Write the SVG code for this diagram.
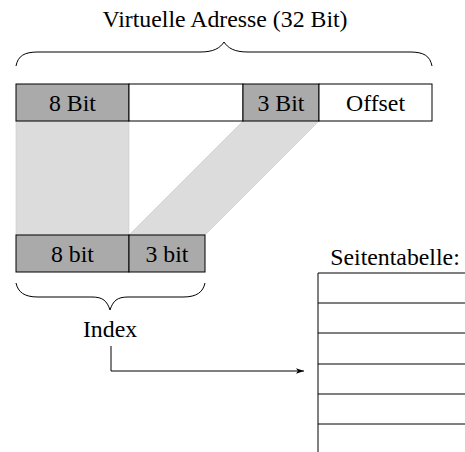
<svg xmlns="http://www.w3.org/2000/svg" width="465" height="452" viewBox="0 0 465 452">
<defs>
<style>
text{font-family:"Liberation Serif","Times New Roman",serif;fill:#000;text-anchor:middle}
.t{font-size:23.8px}
.l{font-size:23.8px}
.dark{fill:#aaaaaa;stroke:#000;stroke-width:1}
.white{fill:#fff;stroke:#000;stroke-width:1}
.shade{fill:#dcdcdc;stroke:#c8c8c8;stroke-width:0.6}
.line{fill:none;stroke:#000;stroke-width:1}
</style>
<marker id="ah" viewBox="0 0 10 10" refX="10" refY="5" markerWidth="8" markerHeight="8" orient="auto" markerUnits="userSpaceOnUse">
<path d="M0,1.5 L10,5 L0,8.5 L2.5,5 Z" fill="#000"/>
</marker>
</defs>
<g id="shading">
<rect class="shade" x="16" y="121" width="113" height="114"/>
<polygon class="shade" points="243,121 319,121 205,235 129,235"/>
</g>
<g id="title"><text class="t" x="225" y="27">Virtuelle Adresse (32 Bit)</text></g>
<g id="brace-top"><path class="line" d="M16,66 C18,56 24,52 38,52 L200,52 C214,52 220,48 224,42 C228,48 234,52 248,52 L410,52 C424,52 430,56 432,66"/></g>
<g id="vaddr">
<rect class="dark" x="16" y="84" width="113" height="37"/>
<text class="l" x="72.5" y="111">8 Bit</text>
<rect class="white" x="129" y="84" width="114" height="37"/>
<rect class="dark" x="243" y="84" width="76" height="37"/>
<text class="l" x="281" y="111">3 Bit</text>
<rect class="white" x="319" y="84" width="113" height="37"/>
<text class="l" x="375.5" y="111">Offset</text>
</g>
<g id="index-bits">
<rect class="dark" x="16" y="235" width="113" height="37"/>
<text class="l" x="72.5" y="262">8 bit</text>
<rect class="dark" x="129" y="235" width="76" height="37"/>
<text class="l" x="167" y="262">3 bit</text>
</g>
<g id="brace-bottom"><path class="line" d="M16,283 C18,292 24,297 38,297 L92,297 C103,297 107,301 110,310 C113,301 117,297 128,297 L183,297 C197,297 203,292 205,283"/></g>
<g id="index-label"><text class="l" x="110" y="337">Index</text></g>
<g id="table">
<text class="l" x="395" y="265">Seitentabelle:</text>
<path class="line" d="M318,273 V452 M318,273 H465 M318,303 H465 M318,333 H465 M318,364 H465 M318,394 H465 M318,424 H465"/>
</g>
<g id="connectors">
<path class="line" d="M111,346 V371 H304" marker-end="url(#ah)"/>
</g>
</svg>
